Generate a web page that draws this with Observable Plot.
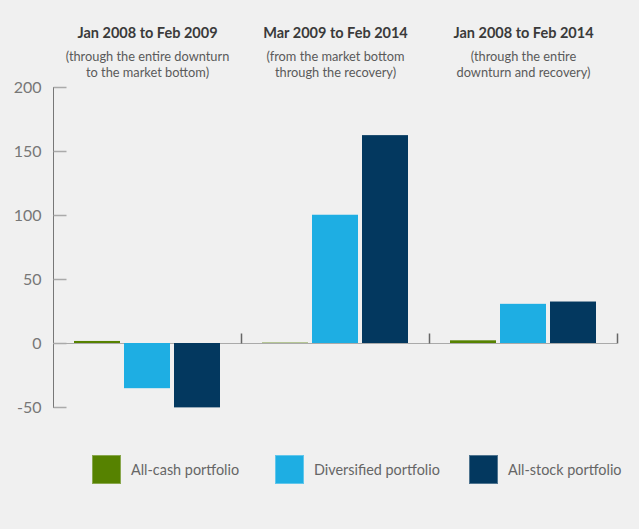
<!DOCTYPE html>
<html><head><meta charset="utf-8">
<script src="https://cdn.jsdelivr.net/npm/d3@7"></script>
<script src="https://cdn.jsdelivr.net/npm/@observablehq/plot@0.6"></script>
<style>
html,body{margin:0;padding:0;background:#f0f0f0;}
#chart{position:relative;width:639px;height:529px;font-family:Lato, sans-serif;overflow:hidden;}
#chart svg{position:absolute;left:0;top:0;}
.item{position:absolute;top:455px;height:29px;display:flex;align-items:center;}
.sw{width:27px;height:27px;border:1px solid rgba(255,255,255,0.3);margin-right:10px;}
.lb{font-size:14.4px;color:#666;white-space:nowrap;}
</style></head><body><div id="chart"></div>
<script>
const periods = ["Jan 2008 to Feb 2009", "Mar 2009 to Feb 2014", "Jan 2008 to Feb 2014"];
const subtitles = ["(through the entire downturn\nto the market bottom)", "(from the market bottom\nthrough the recovery)", "(through the entire\ndownturn and recovery)"];
const portfolios = ["All-cash portfolio", "Diversified portfolio", "All-stock portfolio"];
const colors = ["#568200", "#1eaee3", "#03385f"];
const cashValues = [1.6, 0.3, 2.1];
const diversifiedValues = [-35.3, 100.2, 30.6];
const stockValues = [-50.3, 162.4, 32.4];
const yTicks = [-50, 0, 50, 100, 150, 200];

const series = [cashValues, diversifiedValues, stockValues];
const rows = periods.flatMap((p, i) => portfolios.map((s, j) => ({period: p, portfolio: s, value: series[j][i]})));
const groups = periods.map((p, i) => ({period: p, title: p, subtitle: subtitles[i]}));

const tickRight = {draw(ctx) { ctx.moveTo(0, 0); ctx.lineTo(13, 0); }};
const tickUp = {draw(ctx) { ctx.moveTo(0, 0); ctx.lineTo(0, -10); }};

const plot = Plot.plot({
  width: 639, height: 430,
  marginTop: 87, marginBottom: 23, marginLeft: 53, marginRight: 22,
  style: {background: "transparent", fontFamily: "Lato, sans-serif", overflow: "visible"},
  fx: {domain: periods, padding: 0, axis: null},
  x: {domain: portfolios, paddingInner: 0.08, paddingOuter: 0.42, axis: null},
  y: {domain: [-50, 200], axis: null},
  color: {domain: portfolios, range: colors},
  marks: [
    Plot.frame({anchor: "left", facetAnchor: "left", stroke: "#777"}),
    Plot.axisY(yTicks, {label: null, tickSize: 0, tickPadding: 12, fontSize: 16, fill: "#777", facetAnchor: "left", tickFormat: d => String(d)}),
    Plot.dot(yTicks, {y: d => d, frameAnchor: "left", facetAnchor: "left", symbol: tickRight, stroke: "#aaa", fill: "none"}),
    Plot.ruleY([0], {stroke: "#aaa"}),
    Plot.dot(groups, {fx: "period", y: () => 0, frameAnchor: "right", symbol: tickUp, stroke: "#666", fill: "none"}),
    Plot.barY(rows, {fx: "period", x: "portfolio", y: "value", fill: "portfolio"}),
    Plot.text(groups, {fx: "period", text: "title", frameAnchor: "top", dy: -54, lineAnchor: "middle", fontWeight: "bold", fontSize: 14.5, fill: "#3a3a3a"}),
    Plot.text(groups, {fx: "period", text: "subtitle", frameAnchor: "top", dy: -24, lineAnchor: "middle", fontSize: 12.8, lineHeight: 1.25, fill: "#5a5a5a"})
  ]
});
const chart = document.getElementById("chart");
chart.appendChild(plot);

const lefts = [92, 275, 469];
portfolios.forEach((p, i) => {
  const item = document.createElement("div");
  item.className = "item";
  item.style.left = lefts[i] + "px";
  const sw = document.createElement("div");
  sw.className = "sw";
  sw.style.background = colors[i];
  const lb = document.createElement("span");
  lb.className = "lb";
  lb.textContent = p;
  item.appendChild(sw);
  item.appendChild(lb);
  chart.appendChild(item);
});
</script>
</body></html>
